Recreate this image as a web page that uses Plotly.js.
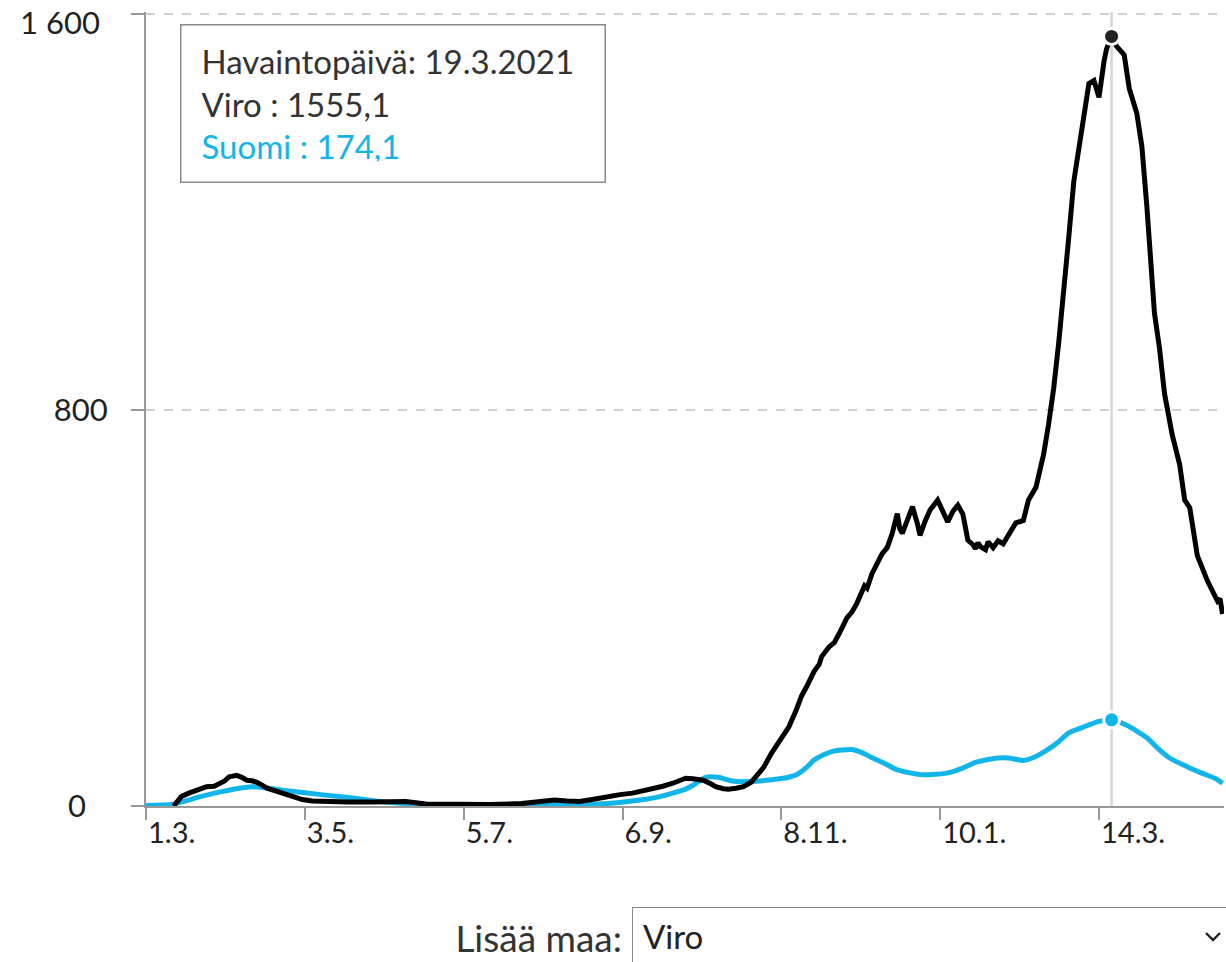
<!DOCTYPE html>
<html>
<head>
<meta charset="utf-8">
<script src="https://cdn.plot.ly/plotly-3.0.1.min.js"></script>
<style>
  html, body { margin: 0; padding: 0; background: #fff; width: 1226px; height: 962px; overflow: hidden; position: relative; }
  #chart { position: absolute; left: 0; top: -20px; width: 1226px; height: 920px; }
  #lbl { position: absolute; top: 912px; right: 604px; font-family: Lato, sans-serif; font-size: 37px; color: #333; line-height: 52px; }
  #sel { position: absolute; top: 907px; left: 632px; width: 610px; height: 70px; border: 1px solid #8a8a8a; box-sizing: border-box;
         font-family: Lato, sans-serif; font-size: 33px; color: #222; padding: 0 0 12px 10px; background: #fff;
         -webkit-appearance: none; appearance: none; outline: none; border-radius: 0; }
  #chev { position: absolute; left: 1203px; top: 930px; }
</style>
</head>
<body>
<div id="chart"></div>
<label id="lbl" for="sel">Lisää maa:</label>
<select id="sel"><option>Viro</option><option>Ruotsi</option><option>Norja</option></select>
<svg id="chev" width="20" height="14" viewBox="0 0 20 14"><polyline points="3,3 10,10 17,3" fill="none" stroke="#222" stroke-width="2.4"/></svg>
<script>
// ---- data ----
const viroDates = ['2020-03-12','2020-03-15','2020-03-18','2020-03-21','2020-03-25','2020-03-28','2020-03-30','2020-04-01','2020-04-03','2020-04-06','2020-04-08','2020-04-10','2020-04-12','2020-04-14','2020-04-16','2020-04-18','2020-04-21','2020-04-24','2020-04-28','2020-05-02','2020-05-06','2020-05-10','2020-05-20','2020-05-30','2020-06-06','2020-06-12','2020-06-20','2020-07-01','2020-07-15','2020-07-28','2020-08-04','2020-08-10','2020-08-15','2020-08-20','2020-08-25','2020-08-31','2020-09-05','2020-09-10','2020-09-14','2020-09-18','2020-09-22','2020-09-26','2020-09-29','2020-10-01','2020-10-04','2020-10-08','2020-10-11','2020-10-13','2020-10-16','2020-10-18','2020-10-21','2020-10-24','2020-10-27','2020-10-29','2020-11-01','2020-11-04','2020-11-07','2020-11-09','2020-11-11','2020-11-14','2020-11-16','2020-11-18','2020-11-21','2020-11-23','2020-11-24','2020-11-27','2020-11-29','2020-12-01','2020-12-04','2020-12-06','2020-12-08','2020-12-11','2020-12-12','2020-12-14','2020-12-16','2020-12-18','2020-12-20','2020-12-22','2020-12-24','2020-12-25','2020-12-26','2020-12-28','2020-12-30','2021-01-01','2021-01-02','2021-01-04','2021-01-06','2021-01-09','2021-01-11','2021-01-13','2021-01-15','2021-01-17','2021-01-19','2021-01-21','2021-01-23','2021-01-24','2021-01-25','2021-01-26','2021-01-28','2021-01-29','2021-01-31','2021-02-02','2021-02-04','2021-02-06','2021-02-09','2021-02-12','2021-02-14','2021-02-17','2021-02-20','2021-02-22','2021-02-24','2021-02-26','2021-02-28','2021-03-02','2021-03-04','2021-03-06','2021-03-08','2021-03-10','2021-03-12','2021-03-14','2021-03-16','2021-03-17','2021-03-19','2021-03-21','2021-03-24','2021-03-26','2021-03-29','2021-03-31','2021-04-02','2021-04-04','2021-04-05','2021-04-07','2021-04-09','2021-04-12','2021-04-15','2021-04-17','2021-04-19','2021-04-22','2021-04-26','2021-04-30','2021-05-01','2021-05-02'];
const viroValues = [0,19,26,32,39,40,44,50,59,62,58,52,51,48,42,36,31,26,19,13,10,9,8,8,9,9,4,3,3,5,10,12,10,9,13,19,23,26,30,34,40,46,53,56,55,52,45,39,35,34,36,39,48,59,78,106,128,142,160,195,222,241,272,286,302,322,330,349,380,392,410,445,440,470,490,510,522,551,591,560,551,580,605,570,547,575,598,618,595,574,595,608,590,537,528,520,532,524,518,534,522,536,530,547,572,577,618,644,710,771,843,935,1057,1149,1262,1323,1384,1460,1466,1432,1505,1530,1555.1,1535,1518,1450,1400,1333,1211,1057,996,925,833,751,690,618,603,506,455,414,419,388];

const suomiDates = ['2020-03-01','2020-03-11','2020-03-14','2020-03-18','2020-03-21','2020-03-25','2020-03-31','2020-04-07','2020-04-12','2020-04-17','2020-04-24','2020-05-03','2020-05-11','2020-05-22','2020-06-02','2020-06-12','2020-06-23','2020-07-10','2020-07-28','2020-08-10','2020-08-20','2020-08-31','2020-09-13','2020-09-20','2020-09-26','2020-10-01','2020-10-04','2020-10-09','2020-10-14','2020-10-19','2020-10-24','2020-10-29','2020-11-04','2020-11-10','2020-11-14','2020-11-18','2020-11-21','2020-11-25','2020-11-28','2020-12-02','2020-12-06','2020-12-10','2020-12-13','2020-12-19','2020-12-24','2020-12-29','2021-01-03','2021-01-08','2021-01-12','2021-01-16','2021-01-20','2021-01-24','2021-01-28','2021-02-02','2021-02-06','2021-02-12','2021-02-16','2021-02-21','2021-02-26','2021-03-02','2021-03-07','2021-03-14','2021-03-19','2021-03-25','2021-04-02','2021-04-06','2021-04-11','2021-04-19','2021-04-24','2021-04-29','2021-05-02'];
const suomiValues = [1,3,7,12,17,22,29,36,39,37,32,27,22,16,9,5,2,1,1,2,3,5,12,18,26,34,42,58,58,51,49,50,53,57,63,78,93,104,110,113,114,108,100,86,73,67,63,64,66,71,79,88,93,97,97,92,98,112,130,148,158,171,174.1,163,138,118,97,77,66,56,46];

const tickDates = ['2020-03-01','2020-05-03','2020-07-05','2020-09-06','2020-11-08','2021-01-10','2021-03-14'];
const tickLabels = ['1.3.','3.5.','5.7.','6.9.','8.11.','10.1.','14.3.'];
const yTickVals = [0, 800, 1600];
const yTickLabels = ['0\u2007\u2009', '800', '1 600'];

const hoverDate = '2021-03-19';
const hoverLabel = '19.3.2021';
const hoverValues = [1555.1, 174.1];
const seriesNames = ['Viro', 'Suomi'];

const BLACK = '#000000';
const BLUE = '#12b5ea';
const FONT = 'Lato, "Open Sans", sans-serif';

const fmt = v => String(v).replace('.', ',');

const traces = [
  { x: suomiDates, y: suomiValues, type: 'scatter', mode: 'lines', name: seriesNames[1],
    line: { color: BLUE, width: 5, shape: 'spline', smoothing: 0.6 }, hoverinfo: 'skip' },
  { x: viroDates, y: viroValues, type: 'scatter', mode: 'lines', name: seriesNames[0],
    line: { color: BLACK, width: 5 }, hoverinfo: 'skip' },
  { x: [hoverDate, hoverDate], y: hoverValues, type: 'scatter', mode: 'markers',
    marker: { color: ['#222222', BLUE], size: 16, line: { color: '#ffffff', width: 3 } }, hoverinfo: 'skip' }
];

const tipText = 'Havaintopäivä: ' + hoverLabel + '<br>' +
  seriesNames[0] + ' : ' + fmt(hoverValues[0]) + '<br>' +
  '<span style="color:' + BLUE + '">' + seriesNames[1] + ' : ' + fmt(hoverValues[1]) + '</span>';

// the topmost tick label sits just below its tick so it stays inside the picture
const lastY = yTickVals.length - 1;
const axisTickText = yTickLabels.map((t, i) => (i === lastY ? '' : t));

const layout = {
  width: 1226, height: 920,
  margin: { l: 146, r: 2, t: 32, b: 94 },
  paper_bgcolor: 'rgba(0,0,0,0)', plot_bgcolor: 'rgba(0,0,0,0)',
  showlegend: false,
  font: { family: FONT, size: 30, color: '#222' },
  xaxis: {
    type: 'date', range: ['2020-03-01', '2021-05-02 14:00'],
    tickvals: tickDates, ticktext: tickLabels,
    ticks: 'outside', ticklen: 12, tickwidth: 2, tickcolor: '#999',
    showline: true, linecolor: '#999', linewidth: 2,
    showgrid: false, zeroline: false,
    ticklabelposition: 'outside right',
    tickfont: { family: FONT, size: 29, color: '#222' }
  },
  yaxis: {
    range: [0, 1604.5], tickvals: yTickVals, ticktext: axisTickText,
    ticks: 'outside', ticklen: 13, tickwidth: 2, tickcolor: '#999',
    showline: true, linecolor: '#999', linewidth: 2,
    showgrid: true, gridcolor: '#d0d0d0', gridwidth: 1.5, griddash: 'dash',
    zeroline: false, ticklabeloverflow: 'allow', ticklabelstandoff: 17,
    tickfont: { family: FONT, size: 31, color: '#222' }
  },
  shapes: [
    { type: 'line', xref: 'x', yref: 'paper', x0: hoverDate, x1: hoverDate, y0: 0, y1: 1,
      line: { color: '#d6d6d6', width: 2.5 }, layer: 'below' }
  ],
  annotations: [
    { xref: 'paper', yref: 'y', x: 0, y: yTickVals[lastY], xanchor: 'right', yanchor: 'middle',
      xshift: -44, yshift: -8, text: yTickLabels[lastY], showarrow: false,
      font: { family: FONT, size: 31, color: '#222' } },
    { xref: 'paper', yref: 'paper', x: 0.0315, y: 0.985, xanchor: 'left', yanchor: 'top',
      text: tipText, showarrow: false, align: 'left', valign: 'middle',
      width: 383, height: 116, borderpad: 20,
      bordercolor: '#8a8a8a', borderwidth: 1.5, bgcolor: '#ffffff',
      font: { family: FONT, size: 33, color: '#333' } }
  ]
};

Plotly.newPlot('chart', traces, layout, { staticPlot: true, displayModeBar: false });
</script>
</body>
</html>
